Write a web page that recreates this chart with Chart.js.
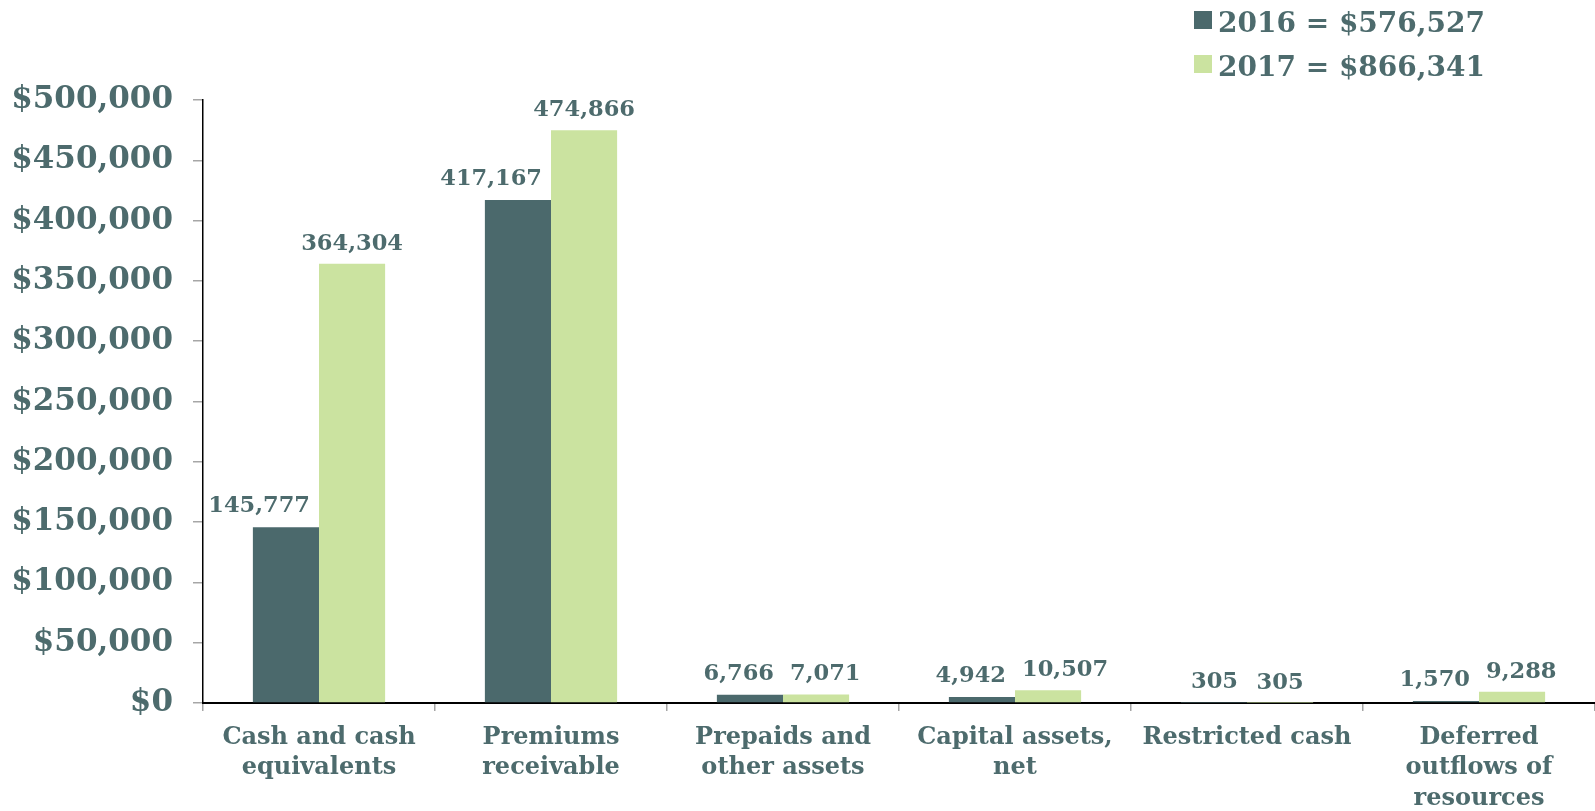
<!DOCTYPE html>
<html>
<head>
<meta charset="utf-8">
<title>Assets and deferred outflows</title>
<script src="https://cdn.jsdelivr.net/npm/chart.js@4.4.1/dist/chart.umd.min.js"></script>
<style>
  html, body { margin: 0; padding: 0; background: #fff; }
  #wrap { width: 1595px; height: 811px; position: relative; }
</style>
</head>
<body>
<div id="wrap"><canvas id="assets"></canvas></div>
<script>
const categories = [
  ['Cash and cash', 'equivalents'],
  ['Premiums', 'receivable'],
  ['Prepaids and', 'other assets'],
  ['Capital assets,', 'net'],
  ['Restricted cash'],
  ['Deferred', 'outflows of', 'resources'],
];
const years = ['2016', '2017'];
const values2016 = [145777, 417167, 6766, 4942, 305, 1570];
const values2017 = [364304, 474866, 7071, 10507, 305, 9288];
const yTickMax = 500000;
const yTickStep = 50000;

const FONT = '"DejaVu Serif", "Liberation Serif", serif';
const TEXT = '#4d6b6d';
const DARK = '#4b696c';
const LIGHT = '#cbe3a0';
const LABEL_SIZE = 22.5;

const fmt = (v) => v.toLocaleString('en-US');
const sum = (arr) => arr.reduce((a, b) => a + b, 0);

// value labels above each bar; the 2016 label hugs its bar's right edge
const barLabels = {
  id: 'barLabels',
  afterDatasetsDraw(chart) {
    const ctx = chart.ctx;
    const m0 = chart.getDatasetMeta(0);
    const m1 = chart.getDatasetMeta(1);
    ctx.save();
    ctx.font = `bold ${LABEL_SIZE}px ${FONT}`;
    ctx.fillStyle = TEXT;
    ctx.textBaseline = 'alphabetic';
    ctx.textAlign = 'left';
    m0.data.forEach((bar0, i) => {
      const bar1 = m1.data[i];
      const t0 = fmt(values2016[i]);
      const t1 = fmt(values2017[i]);
      const r0 = bar0.x + bar0.width / 2 - 9;
      const y0 = bar0.y - 15;
      const w0 = ctx.measureText(t0).width;
      ctx.fillText(t0, r0 - w0, y0);

      const y1 = bar1.y - 14;
      const w1 = ctx.measureText(t1).width;
      let left1 = bar1.x - w1 / 2;
      if (Math.abs(y1 - y0) < LABEL_SIZE && left1 < r0 + 12) {
        left1 = bar1.x - bar1.width / 2 + 7;
      }
      ctx.fillText(t1, left1, y1);
    });
    ctx.restore();
  },
};

// stacked legend in the top right corner with the yearly totals
const totalsLegend = {
  id: 'totalsLegend',
  afterDraw(chart) {
    const ctx = chart.ctx;
    const rows = [
      { text: `${years[0]} = $${fmt(sum(values2016))}`, color: DARK },
      { text: `${years[1]} = $${fmt(sum(values2017))}`, color: LIGHT },
    ];
    ctx.save();
    ctx.font = `bold 28px ${FONT}`;
    ctx.textBaseline = 'alphabetic';
    ctx.textAlign = 'left';
    rows.forEach((row, i) => {
      const base = 32 + i * 44;
      ctx.fillStyle = row.color;
      ctx.fillRect(1194, base - 21, 18, 18);
      ctx.fillStyle = TEXT;
      ctx.fillText(row.text, 1218, base);
    });
    ctx.restore();
  },
};

new Chart(document.getElementById('assets'), {
  type: 'bar',
  data: {
    labels: categories,
    datasets: [
      { label: years[0], data: values2016, backgroundColor: DARK },
      { label: years[1], data: values2017, backgroundColor: LIGHT },
    ],
  },
  options: {
    responsive: true,
    maintainAspectRatio: false,
    animation: false,
    events: [],
    categoryPercentage: 0.57,
    barPercentage: 1.0,
    layout: { padding: { top: 100, right: 0, left: 0, bottom: 0 } },
    plugins: {
      legend: { display: false },
      tooltip: { enabled: false },
    },
    scales: {
      x: {
        grid: { drawOnChartArea: false, drawTicks: true, tickLength: 8, color: '#a6a6a6', lineWidth: 1.5 },
        border: { display: true, color: '#000', width: 2 },
        ticks: {
          color: TEXT,
          font: { family: FONT, size: 24, weight: 'bold', lineHeight: 1.28 },
          padding: 11,
          maxRotation: 0,
          autoSkip: false,
        },
        afterFit(scale) { scale.height = 108; },
      },
      y: {
        min: 0,
        max: yTickMax,
        grid: { drawOnChartArea: false, drawTicks: true, tickLength: 10, color: '#a6a6a6', lineWidth: 1.5 },
        border: { display: true, color: '#000', width: 1.5 },
        ticks: {
          stepSize: yTickStep,
          color: TEXT,
          font: { family: FONT, size: 31, weight: 'bold' },
          padding: 20,
          callback: (v) => '$' + fmt(v),
        },
        afterFit(scale) { scale.width = 203; },
      },
    },
  },
  plugins: [barLabels, totalsLegend],
});
</script>
</body>
</html>
